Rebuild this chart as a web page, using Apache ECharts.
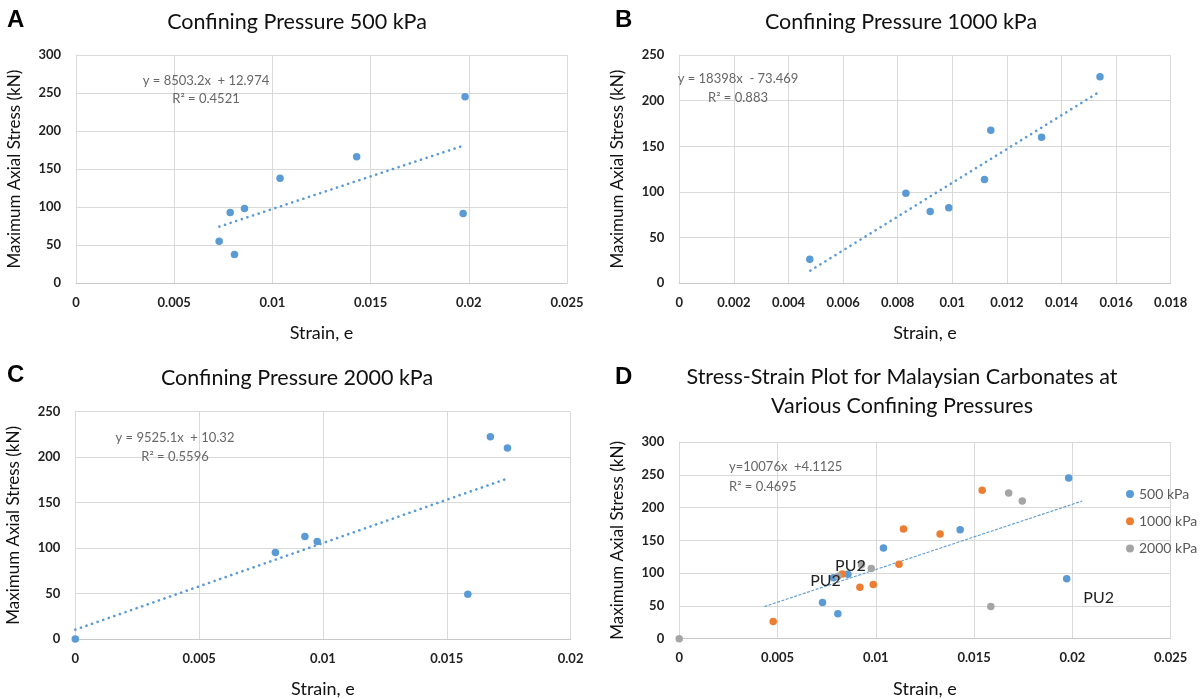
<!DOCTYPE html>
<html><head><meta charset="utf-8">
<script src="https://cdn.jsdelivr.net/npm/echarts@6.0.0/dist/echarts.min.js"></script>
<style>html,body{margin:0;padding:0;background:#fff}#c{width:1204px;height:699px}</style>
</head><body><div id="c"></div>
<script>
// ---------------- data ----------------
const strain500 = [0.00729, 0.00785, 0.00807, 0.00858, 0.01039, 0.01429, 0.01971, 0.01981];
const stress500 = [55.4, 92.9, 38.0, 98.2, 138.2, 166.2, 91.6, 245.2];
const strain1000 = [0.00478, 0.00830, 0.00919, 0.00987, 0.01118, 0.01141, 0.01327, 0.01541];
const stress1000 = [26.2, 98.5, 78.5, 82.8, 113.7, 167.5, 159.8, 226.3];
const strain2000 = [0, 0.00808, 0.00927, 0.00977, 0.01585, 0.01676, 0.01745];
const stress2000 = [0, 95.2, 112.7, 107.2, 49.2, 222.4, 210.0];
// trendline end points (as drawn)
const trend500 = [[0.0073, 74.5], [0.0198, 181.5]];
const trend1000 = [[0.0048, 13.9], [0.0154, 209.9]];
const trend2000 = [[0, 10.3], [0.0175, 177.0]];
const trendAll = [[0.00433, 49.0], [0.0205, 210.0]];
const seriesNames = ['500 kPa', '1000 kPa', '2000 kPa'];
const panelLetters = ['A', 'B', 'C', 'D'];
const panelTitles = ['Confining Pressure 500 kPa', 'Confining Pressure 1000 kPa', 'Confining Pressure 2000 kPa',
  'Stress-Strain Plot for Malaysian Carbonates at\nVarious Confining Pressures'];
const equations = ['y = 8503.2x  + 12.974', 'y = 18398x  - 73.469', 'y = 9525.1x  + 10.32', 'y=10076x  +4.1125'];
const rSquared = ['R\u00B2 = 0.4521', 'R\u00B2 = 0.883', 'R\u00B2 = 0.5596', 'R\u00B2 = 0.4695'];
const outlierLabel = 'PU2';
const xMax = [0.025, 0.018, 0.02, 0.025];
const xStep = [0.005, 0.002, 0.005, 0.005];
const yMax = [300, 250, 250, 300];
const yStep = [50, 50, 50, 50];
const xAxisName = 'Strain, e';
const yAxisName = 'Maximum Axial Stress (kN)';

// ---------------- styling / layout ----------------
const FONT = 'Lato, "Open Sans", sans-serif';
const BLUE = '#5b9bd5', ORANGE = '#ed7d31', GRAY = '#a5a5a5';
const grids = [
  {left: 76, top: 55, width: 491, height: 228.3},
  {left: 679.3, top: 55, width: 491.4, height: 228.3},
  {left: 75.3, top: 411.7, width: 495.3, height: 228.6},
  {left: 679.2, top: 442, width: 491.5, height: 196.7}
];
const zip = (xs, ys) => xs.map((x, i) => [x, ys[i]]);

const xAxes = grids.map((g, i) => ({
  type: 'value', gridIndex: i, min: 0, max: xMax[i], interval: xStep[i],
  name: xAxisName, nameLocation: 'middle', nameGap: 41,
  nameTextStyle: {fontFamily: FONT, fontSize: 18, color: '#111'},
  axisLine: {show: true, lineStyle: {color: '#c9c9c9'}},
  axisTick: {show: false},
  axisLabel: {fontFamily: FONT, fontSize: 13, color: '#222', fontWeight: 'bold', margin: 13},
  splitLine: {show: true, lineStyle: {color: '#d9d9d9'}}
}));
const yAxes = grids.map((g, i) => ({
  type: 'value', gridIndex: i, min: 0, max: yMax[i], interval: yStep[i],
  name: yAxisName, nameLocation: 'middle', nameGap: 53, nameRotate: 90,
  nameTextStyle: {fontFamily: FONT, fontSize: 17, color: '#111'},
  axisLine: {show: true, lineStyle: {color: '#d9d9d9'}},
  axisTick: {show: false},
  axisLabel: {fontFamily: FONT, fontSize: 13, color: '#222', fontWeight: 'bold', margin: 15},
  splitLine: {show: true, lineStyle: {color: '#d9d9d9'}}
}));

function scatter(name, xs, ys, color, gi) {
  return {type: 'scatter', name, xAxisIndex: gi, yAxisIndex: gi, data: zip(xs, ys),
    symbol: 'circle', symbolSize: 7.5, itemStyle: {color, opacity: 1}, z: 3};
}
function dottedTrend(pts, gi) {
  return {type: 'line', xAxisIndex: gi, yAxisIndex: gi, data: pts, symbol: 'none', silent: true, z: 2,
    lineStyle: {color: BLUE, width: 2.6, type: [0.1, 5.8], cap: 'round'}};
}

const series = [
  scatter('A', strain500, stress500, BLUE, 0), dottedTrend(trend500, 0),
  scatter('B', strain1000, stress1000, BLUE, 1), dottedTrend(trend1000, 1),
  scatter('C', strain2000, stress2000, BLUE, 2), dottedTrend(trend2000, 2),
  {type: 'line', xAxisIndex: 3, yAxisIndex: 3, data: trendAll, symbol: 'none', silent: true, z: 2,
    lineStyle: {color: BLUE, width: 1.1, type: [3, 1.5]}}
];
const labelStyle = (off) => ({show: true, formatter: outlierLabel, position: 'inside', offset: off,
  fontFamily: FONT, fontSize: 16, color: '#222'});
const d500 = scatter(seriesNames[0], strain500, stress500, BLUE, 3);
d500.data[1] = {value: d500.data[1], label: labelStyle([-8, 3])};
d500.data[6] = {value: d500.data[6], label: labelStyle([32, 19])};
const d1000 = scatter(seriesNames[1], strain1000, stress1000, ORANGE, 3);
d1000.data[1] = {value: d1000.data[1], label: labelStyle([8, -8.5])};
const d2000 = scatter(seriesNames[2], strain2000, stress2000, GRAY, 3);
series.push(d500, d1000, d2000);

const titlePos = [{x: 297, y: 8}, {x: 901, y: 8}, {x: 297, y: 364}, {x: 902, y: 363}];
const titles = panelTitles.map((t, i) => ({
  text: t, left: titlePos[i].x, top: titlePos[i].y, textAlign: 'center', padding: 0,
  textStyle: {fontFamily: FONT, fontSize: 21.5, fontWeight: 'normal', color: '#111', lineHeight: 29}
}));
const letterPos = [{x: 7, y: 22}, {x: 615, y: 22}, {x: 7, y: 377}, {x: 615, y: 379}];
const eqPos = [
  {x: 206, y: 80.7, r: 99.3, align: 'center'},
  {x: 738, y: 78.7, r: 97.7, align: 'center'},
  {x: 175, y: 437.7, r: 457, align: 'center'},
  {x: 729, y: 467.3, r: 486.7, align: 'left'}
];
const graphic = [];
panelLetters.forEach((L, i) => graphic.push({type: 'text', left: letterPos[i].x, top: letterPos[i].y - 14,
  style: {text: L, font: 'bold 24px "Liberation Sans", Arial, sans-serif', fill: '#000'}}));
equations.forEach((e, i) => {
  const p = eqPos[i];
  graphic.push({type: 'text', x: p.x, y: p.y, z: 10,
    style: {text: e, font: '13px ' + FONT, fill: '#666', align: p.align, verticalAlign: 'middle'}});
  graphic.push({type: 'text', x: p.x, y: p.r, z: 10,
    style: {text: rSquared[i], font: '13px ' + FONT, fill: '#666', align: p.align, verticalAlign: 'middle'}});
});

const option = {
  animation: false,
  backgroundColor: '#fff',
  title: titles,
  grid: grids.map(g => Object.assign({containLabel: false}, g)),
  xAxis: xAxes,
  yAxis: yAxes,
  legend: {data: seriesNames, orient: 'vertical', left: 1121, top: 482, icon: 'circle',
    itemWidth: 8, itemHeight: 8, itemGap: 13.3,
    textStyle: {fontFamily: FONT, fontSize: 14, color: '#595959'}},
  graphic,
  series
};
const chart = echarts.init(document.getElementById('c'));
chart.setOption(option);
</script></body></html>
